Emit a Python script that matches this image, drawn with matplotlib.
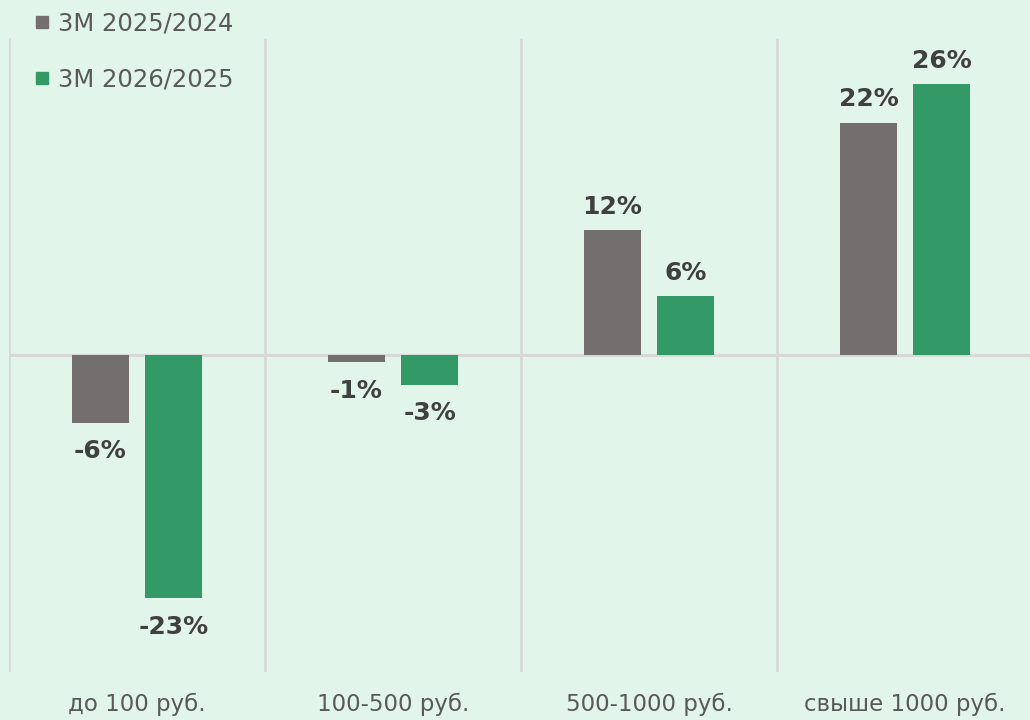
import matplotlib
matplotlib.use("Agg")
import matplotlib.pyplot as plt
from matplotlib.lines import Line2D
import numpy as np

categories = ["до 100 руб.", "100-500 руб.", "500-1000 руб.", "свыше 1000 руб."]
series_names = ["3M 2025/2024", "3M 2026/2025"]
growth_2025 = [-6.4, -0.7, 11.8, 22.0]
growth_2026 = [-23.0, -2.8, 5.6, 25.6]

bg = "#E2F5EB"
gray = "#736F6E"
green = "#339966"
grid_c = "#D6D9D8"
label_c = "#404040"
tick_c = "#595959"

W, H = 1030, 720
fig = plt.figure(figsize=(W / 100, H / 100), dpi=100, facecolor=bg)
ax = fig.add_axes([9 / W, (H - 672) / H, 1024 / W, (672 - 38) / H], facecolor=bg)

x = np.arange(len(categories))
bw = 0.223
off = 0.143
b1 = ax.bar(x - off, growth_2025, bw, color=gray, zorder=3)
b2 = ax.bar(x + off, growth_2026, bw, color=green, zorder=3)

ax.set_xlim(-0.5, len(categories) - 0.5)
ax.set_ylim(-30, 30)

# category separators and zero line
ax.vlines(np.arange(len(categories)) - 0.5, -30, 30, colors=grid_c, lw=2, zorder=1)
ax.axhline(0, color=grid_c, lw=2.2, zorder=2)

for bars, vals in ((b1, growth_2025), (b2, growth_2026)):
    for rect, v in zip(bars, vals):
        cx = rect.get_x() + rect.get_width() / 2
        if v >= 0:
            ax.annotate(f"{v:.0f}%", (cx, v), xytext=(0, 8), textcoords="offset points",
                        ha="center", va="bottom", fontsize=18, fontweight="bold", color=label_c)
        else:
            ax.annotate(f"{v:.0f}%", (cx, v), xytext=(0, -12), textcoords="offset points",
                        ha="center", va="top", fontsize=18, fontweight="bold", color=label_c)

for s in ax.spines.values():
    s.set_visible(False)
ax.set_yticks([])
ax.set_xticks(x)
ax.set_xticklabels(categories, fontsize=16.5, color=tick_c)
ax.tick_params(axis="x", length=0, pad=15)

handles = [Line2D([], [], marker="s", linestyle="", markersize=9, color=c) for c in (gray, green)]
leg = fig.legend(handles, series_names, loc="upper left", bbox_to_anchor=(23 / W, 1 + 1 / H),
                 frameon=False, fontsize=17.5, labelcolor=tick_c, handlelength=0.6,
                 handletextpad=0.35, labelspacing=1.35, borderpad=0)

fig.savefig("out.png", dpi=100, facecolor=bg)
